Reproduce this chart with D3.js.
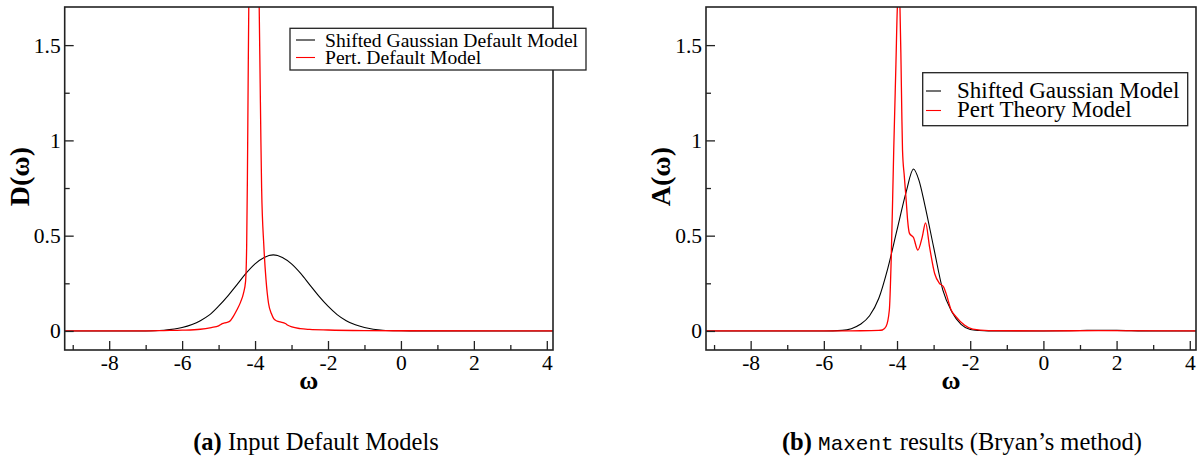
<!DOCTYPE html>
<html>
<head>
<meta charset="utf-8">
<script src="https://cdn.jsdelivr.net/npm/d3@7"></script>
<style>
  html, body { margin: 0; padding: 0; background: #fff; }
  svg { display: block; }
  text { font-family: "Liberation Serif", "Times New Roman", serif; fill: #000; }
</style>
</head>
<body>
<svg id="chart" width="1199" height="461"></svg>
<script>
// ---------- data ----------
const xMajorTicks = [-8, -6, -4, -2, 0, 2, 4];
const xMinorTicks = [-9, -7, -5, -3, -1, 1, 3];
const yMajorTicks = [0, 0.5, 1, 1.5];
const yMinorTicks = [0.25, 0.75, 1.25];
const xTickLabels = ["-8", "-6", "-4", "-2", "0", "2", "4"];
const yTickLabels = ["0", "0.5", "1", "1.5"];

// Panel (a): input default models
const gaussDefaultX = [-9.22, -7, -6.5, -6, -5.5, -5.25, -5, -4.75, -4.5, -4.25, -4, -3.75, -3.5, -3.25, -3, -2.75, -2.5, -2.25, -2, -1.75, -1.5, -1.25, -1, -0.5, 0, 0.5, 4.19];
const gaussDefaultY = [0, 0.000, 0.004, 0.018, 0.054, 0.084, 0.13, 0.183, 0.242, 0.302, 0.352, 0.386, 0.399, 0.386, 0.352, 0.302, 0.242, 0.183, 0.13, 0.086, 0.054, 0.032, 0.018, 0.004, 0.001, 0, 0];

const pertDefaultX = [-9.22, -7, -6.5, -6, -5.5, -5.2, -5.0, -4.9, -4.8, -4.7, -4.6, -4.5, -4.4, -4.32, -4.26, -4.23, -4.21, -4.19, -4.17, -4.03, -3.89, -3.86, -3.84, -3.82, -3.76, -3.70, -3.63, -3.55, -3.49, -3.4, -3.31, -3.17, -3.1, -2.99, -2.76, -2.5, -2, -1, 0, 4.19];
const pertDefaultY = [0, 0.000, 0.002, 0.004, 0.009, 0.018, 0.027, 0.038, 0.044, 0.05, 0.075, 0.11, 0.15, 0.196, 0.26, 0.45, 0.8, 1.3, 1.75, 3.0, 1.75, 1.3, 1.0, 0.75, 0.45, 0.27, 0.144, 0.09, 0.065, 0.052, 0.047, 0.039, 0.03, 0.021, 0.012, 0.008, 0.005, 0.002, 0.001, 0];

// Panel (b): Maxent results
const gaussResultX = [-9.22, -6, -5.5, -5.25, -5.0, -4.75, -4.5, -4.25, -4.0, -3.75, -3.55, -3.4, -3.25, -3.0, -2.75, -2.5, -2.25, -2.0, -1.75, -1.5, 0, 1, 1.5, 2, 3, 4.19];
const gaussResultY = [0, 0, 0.003, 0.012, 0.035, 0.08, 0.17, 0.33, 0.53, 0.73, 0.85, 0.79, 0.67, 0.44, 0.215, 0.1, 0.035, 0.008, 0.002, 0, 0, 0.002, 0.004, 0.003, 0, 0];

const pertResultX = [-9.22, -6, -5, -4.5, -4.4, -4.3, -4.21, -4.16, -4.12, -4.09, -4.07, -4.03, -3.99, -3.95, -3.92, -3.89, -3.87, -3.85, -3.80, -3.75, -3.71, -3.66, -3.55, -3.43, -3.31, -3.22, -3.11, -2.97, -2.84, -2.73, -2.66, -2.52, -2.39, -2.16, -1.93, -1.5, 0, 1.5, 4.19];
const pertResultY = [0, 0, 0.001, 0.003, 0.005, 0.023, 0.11, 0.37, 0.69, 0.95, 1.1, 1.4, 1.7, 1.78, 1.7, 1.4, 1.15, 0.95, 0.81, 0.686, 0.58, 0.512, 0.49, 0.424, 0.494, 0.567, 0.44, 0.30, 0.25, 0.232, 0.197, 0.11, 0.075, 0.031, 0.009, 0.002, 0, 0.002, 0];

const panels = [
  {
    id: "a", left: 64.7, right: 553, top: 7, bottom: 350,
    ylabel: "D(ω)",
    series: [
      { name: "Shifted Gaussian Default Model", x: gaussDefaultX, y: gaussDefaultY, color: "#000000", width: 1.1 },
      { name: "Pert. Default Model", x: pertDefaultX, y: pertDefaultY, color: "#ff0000", width: 1.3 }
    ],
    legend: { x: 290, y: 28.3, w: 296, h: 41.7, fs: 19.6, row1: 46.5, dy: 17.5, lineX0: 296, lineX1: 315, textX: 325 }
  },
  {
    id: "b", left: 706, right: 1196, top: 7, bottom: 350,
    ylabel: "A(ω)",
    series: [
      { name: "Shifted Gaussian Model", x: gaussResultX, y: gaussResultY, color: "#000000", width: 1.1 },
      { name: "Pert Theory Model", x: pertResultX, y: pertResultY, color: "#ff0000", width: 1.3 }
    ],
    legend: { x: 922.7, y: 72.7, w: 265, h: 53, fs: 23, row1: 97.5, dy: 19.5, lineX0: 926, lineX1: 941, textX: 957 }
  }
];

const xDomain = [-9.22, 4.17];
const yDomain = [-0.1, 1.7];
const SERIF = "'Liberation Serif', 'Times New Roman', serif";

const svg = d3.select("#chart");

panels.forEach(p => {
  const x = d3.scaleLinear().domain(xDomain).range([p.left, p.right]);
  const y = d3.scaleLinear().domain(yDomain).range([p.bottom, p.top]);
  const g = svg.append("g");

  const clipId = "clip-" + p.id;
  svg.append("clipPath").attr("id", clipId)
    .append("rect").attr("x", p.left).attr("y", p.top)
    .attr("width", p.right - p.left).attr("height", p.bottom - p.top);

  // lines
  const line = d3.line().x(d => x(d[0])).y(d => y(d[1])).curve(d3.curveMonotoneX);
  p.series.forEach(s => {
    const pts = s.x.map((v, i) => [v, s.y[i]]);
    g.append("path").attr("d", line(pts))
      .attr("clip-path", `url(#${clipId})`)
      .attr("fill", "none").attr("stroke", s.color).attr("stroke-width", s.width)
      .attr("stroke-linejoin", "round");
  });

  // axes
  const xAxisMajor = d3.axisBottom(x).tickValues(xMajorTicks).tickSize(-9).tickPadding(5).tickFormat((d, i) => xTickLabels[i]);
  const xAxisMinor = d3.axisBottom(x).tickValues(xMinorTicks).tickSize(-5).tickFormat("");
  const yAxisMajor = d3.axisLeft(y).tickValues(yMajorTicks).tickSize(-9).tickPadding(4).tickFormat((d, i) => yTickLabels[i]);
  const yAxisMinor = d3.axisLeft(y).tickValues(yMinorTicks).tickSize(-5).tickFormat("");

  [[xAxisMajor, "x"], [xAxisMinor, "x"], [yAxisMajor, "y"], [yAxisMinor, "y"]].forEach(([ax, k]) => {
    const ag = g.append("g")
      .attr("transform", k === "x" ? `translate(0,${p.bottom})` : `translate(${p.left},0)`)
      .call(ax)
      .attr("font-family", SERIF)
      .attr("font-size", 21.5);
    ag.select(".domain").remove();
    ag.selectAll(".tick line").attr("stroke", "#222").attr("stroke-width", 1.3);
    ag.selectAll(".tick text")
      .attr("font-family", SERIF)
      .style("font-family", SERIF)
      .style("font-size", "21.5px").attr("fill", "#000");
  });

  // frame
  g.append("rect").attr("x", p.left).attr("y", p.top)
    .attr("width", p.right - p.left).attr("height", p.bottom - p.top)
    .attr("fill", "none").attr("stroke", "#222").attr("stroke-width", 1.6);

  // axis titles
  g.append("text")
    .attr("transform", `translate(${p.left - 36},${(p.top + p.bottom) / 2 - 2}) rotate(-90)`)
    .attr("text-anchor", "middle")
    .style("font-size", "28px").style("font-weight", "bold")
    .text(p.ylabel);
  g.append("text")
    .attr("x", (p.left + p.right) / 2).attr("y", 389)
    .attr("text-anchor", "middle")
    .style("font-size", "26px").style("font-weight", "bold")
    .text("ω");

  // legend
  const L = p.legend;
  g.append("rect").attr("x", L.x).attr("y", L.y).attr("width", L.w).attr("height", L.h)
    .attr("fill", "#fff").attr("stroke", "#222").attr("stroke-width", 1.3);
  p.series.forEach((s, i) => {
    const by = L.row1 + i * L.dy;
    g.append("line").attr("x1", L.lineX0).attr("x2", L.lineX1)
      .attr("y1", by - 6.5).attr("y2", by - 6.5)
      .attr("stroke", s.color).attr("stroke-width", 1.1);
    g.append("text").attr("x", L.textX).attr("y", by)
      .style("font-size", L.fs + "px").text(s.name);
  });
});

// captions
const capA = svg.append("text").attr("x", 316).attr("y", 450).attr("text-anchor", "middle").style("font-size", "24.5px");
capA.append("tspan").style("font-weight", "bold").text("(a)");
capA.append("tspan").text(" Input Default Models");

const capB = svg.append("text").attr("x", 962).attr("y", 450).attr("text-anchor", "middle").style("font-size", "24.5px");
capB.append("tspan").style("font-weight", "bold").text("(b)");
capB.append("tspan").text(" ");
capB.append("tspan").style("font-family", "'Liberation Mono', monospace").style("font-size", "21px").text("Maxent");
capB.append("tspan").text(" results (Bryan’s method)");
</script>
</body>
</html>
